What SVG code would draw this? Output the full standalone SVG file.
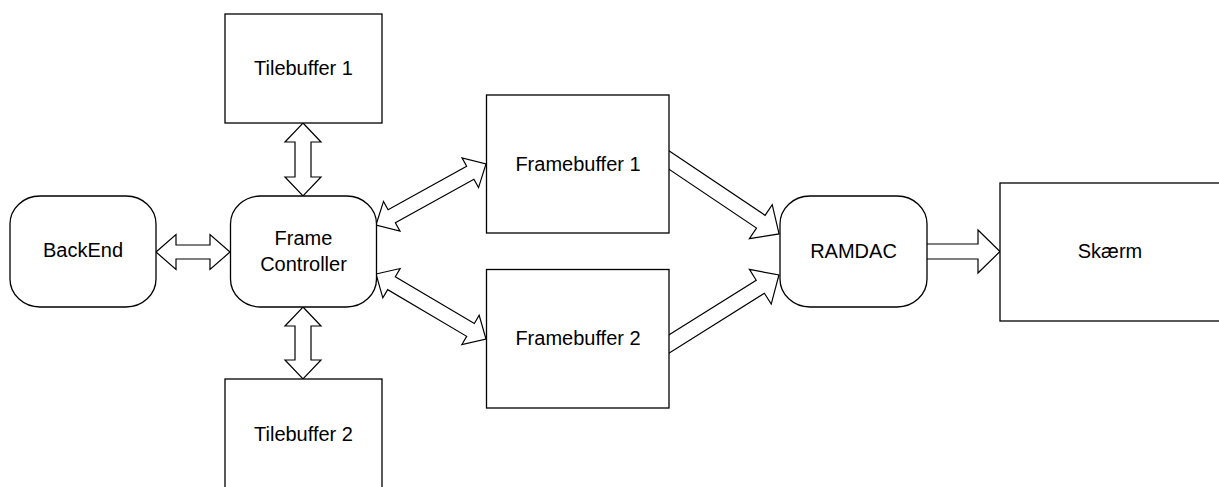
<svg xmlns="http://www.w3.org/2000/svg" width="1219" height="487" viewBox="0 0 1219 487">
  <style>
    .box { fill: #ffffff; stroke: #000000; stroke-width: 1.3; }
    .arrow { fill: #ffffff; stroke: #000000; stroke-width: 1.2; stroke-linejoin: miter; }
    .label { font-family: "Liberation Sans", Arial, sans-serif; font-size: 20px; fill: #000000; text-anchor: middle; }
  </style>
  <rect width="1219" height="487" fill="#ffffff"/>

  <!-- block-arrow connectors, drawn under the nodes -->
  <g id="connectors">
    <!-- BackEnd <-> Frame Controller -->
    <g transform="translate(156,252)">
      <polygon class="arrow" points="0,0 20,-17.5 20,-7 54,-7 54,-17.5 74,0 54,17.5 54,7 20,7 20,17.5"/>
    </g>
    <!-- Tilebuffer 1 <-> Frame Controller -->
    <g transform="translate(303,123) rotate(90)">
      <polygon class="arrow" points="0,0 19,-18 19,-8 54,-8 54,-18 73,0 54,18 54,8 19,8 19,18"/>
    </g>
    <!-- Frame Controller <-> Tilebuffer 2 -->
    <g transform="translate(303,307) rotate(90)">
      <polygon class="arrow" points="0,0 19,-18 19,-8 53,-8 53,-18 72,0 53,18 53,8 19,8 19,18"/>
    </g>
    <!-- Frame Controller <-> Framebuffer 1 -->
    <g transform="translate(376,225) rotate(-29)">
      <polygon class="arrow" points="0,0 18,-17 18,-7.5 107.8,-7.5 107.8,-17 125.8,0 107.8,17 107.8,7.5 18,7.5 18,17"/>
    </g>
    <!-- Frame Controller <-> Framebuffer 2 -->
    <g transform="translate(376,274) rotate(30.6)">
      <polygon class="arrow" points="0,0 18,-17 18,-7.5 109.8,-7.5 109.8,-17 127.8,0 109.8,17 109.8,7.5 18,7.5 18,17"/>
    </g>
    <!-- Framebuffer 1 -> RAMDAC -->
    <g transform="translate(669,160) rotate(33.9)">
      <polygon class="arrow" points="-12,-7.7 110.6,-7.7 110.6,-20.5 132.6,0 110.6,20.5 110.6,7.7 -12,7.7"/>
    </g>
    <!-- Framebuffer 2 -> RAMDAC -->
    <g transform="translate(669,344) rotate(-32.1)">
      <polygon class="arrow" points="-12,-7.7 107.8,-7.7 107.8,-20.5 129.8,0 107.8,20.5 107.8,7.7 -12,7.7"/>
    </g>
    <!-- RAMDAC -> Skærm -->
    <g transform="translate(927,251.5)">
      <polygon class="arrow" points="-6,-7.5 51,-7.5 51,-21.5 73,0 51,21.5 51,7.5 -6,7.5"/>
    </g>
  </g>

  <g id="backend">
    <rect class="box" x="10" y="196" width="146" height="111" rx="30" ry="28"/>
    <text class="label" x="83" y="257">BackEnd</text>
  </g>

  <g id="frame-controller">
    <rect class="box" x="230.5" y="196" width="146" height="111" rx="30" ry="28"/>
    <text class="label" x="303.5" y="245">Frame</text>
    <text class="label" x="303.5" y="271">Controller</text>
  </g>

  <g id="tilebuffer-1">
    <rect class="box" x="225" y="14" width="157" height="109"/>
    <text class="label" x="303.5" y="75">Tilebuffer 1</text>
  </g>

  <g id="tilebuffer-2">
    <rect class="box" x="225" y="379" width="157" height="112"/>
    <text class="label" x="303.5" y="441">Tilebuffer 2</text>
  </g>

  <g id="framebuffer-1">
    <rect class="box" x="486.5" y="95" width="182.5" height="138"/>
    <text class="label" x="578" y="171">Framebuffer 1</text>
  </g>

  <g id="framebuffer-2">
    <rect class="box" x="486.5" y="269.5" width="182.5" height="138.5"/>
    <text class="label" x="578" y="345">Framebuffer 2</text>
  </g>

  <g id="ramdac">
    <rect class="box" x="780" y="196" width="147" height="111" rx="30" ry="28"/>
    <text class="label" x="853.5" y="258">RAMDAC</text>
  </g>

  <g id="skaerm">
    <rect class="box" x="1000" y="183" width="222" height="138"/>
    <text class="label" x="1110" y="258">Skærm</text>
  </g>
</svg>
